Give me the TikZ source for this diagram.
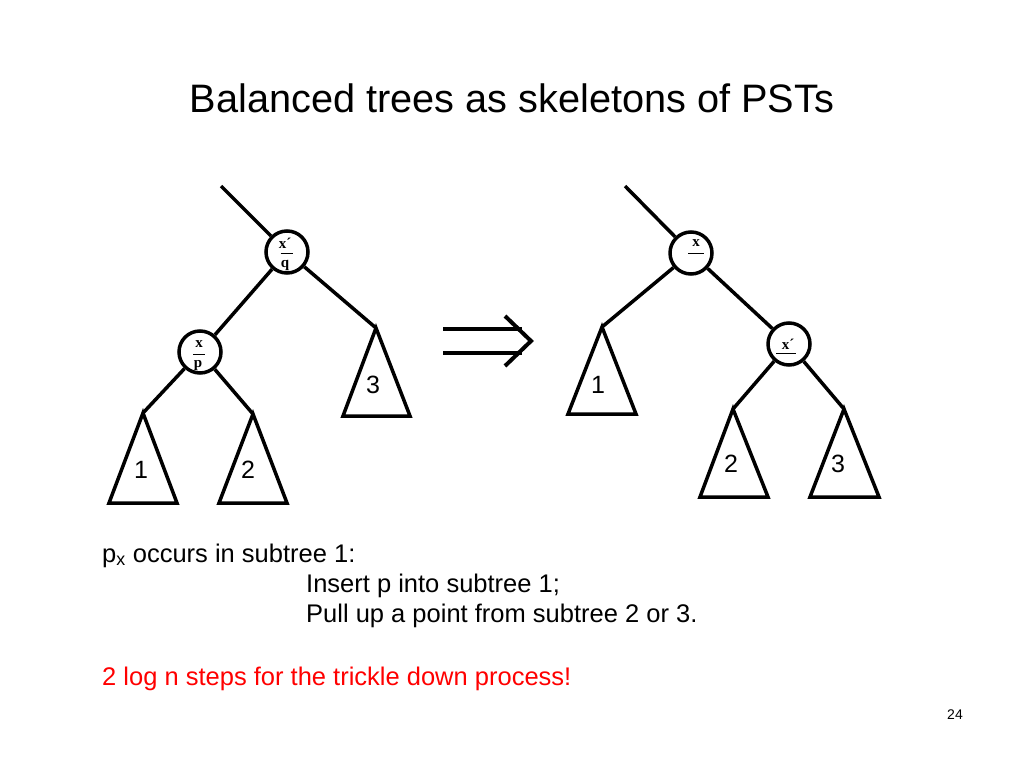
\documentclass[tikz,border=0pt]{standalone}
\usepackage{fontspec}
\setmainfont{Liberation Sans}
\newfontfamily\serifb{Liberation Serif}
\begin{document}
\begin{tikzpicture}[x=1pt,y=-1pt,
  edge/.style={line width=3.5pt},
  circ/.style={draw,circle,line width=3.5pt,minimum size=42pt,inner sep=0pt},
  tri/.style={line width=3.5pt,line join=miter},
  tlab/.style={font=\fontsize{25}{28}\selectfont,inner sep=0pt},
  ntxt/.style={font=\serifb\bfseries\fontsize{15}{17}\selectfont,inner sep=0pt},
  bar/.style={line width=0.8pt},
  body/.style={font=\fontsize{25.5}{29}\selectfont,anchor=base west,inner sep=0pt}]
\useasboundingbox[fill=white] (0,0) rectangle (1024,768);
% title
\node[font=\fontsize{39.7}{46}\selectfont,anchor=base,inner sep=0pt] (title) at (512,112) {Balanced trees as skeletons of PSTs};
% ---------- left tree ----------
\coordinate (Ltop) at (221,186);
\node[circ] (Lr) at (287,252) {};
\node[circ] (Lp) at (200,352) {};
\coordinate (L3a) at (376,328);
\coordinate (L1a) at (143,413);
\coordinate (L2a) at (253,414);
\draw[edge] (Ltop) -- (Lr);
\draw[edge] (Lr) -- (Lp);
\draw[edge] (Lr) -- (L3a);
\draw[edge] (Lp) -- (L1a);
\draw[edge] (Lp) -- (L2a);
\draw[tri] (L3a) -- (410,416) -- (343,416) -- cycle;
\draw[tri] (L1a) -- (177,503) -- (109,503) -- cycle;
\draw[tri] (L2a) -- (287,503) -- (219,503) -- cycle;
\node[tlab] (L3) at (373,385) {3};
\node[tlab] (L1) at (141,470) {1};
\node[tlab] (L2) at (248,470) {2};
\node[ntxt] (Lrx) at (285,243) {x´};
\draw[bar] (280.5,253.5) -- (292.5,253.5);
\node[ntxt] (Lrq) at (285,265) {q};
\node[ntxt] (Lpx) at (199,344) {x};
\draw[bar] (193,354) -- (205,354);
\node[ntxt] (Lpp) at (198,366) {p};
% ---------- arrow ----------
\draw[line width=4pt] (443,329) -- (522,329);
\draw[line width=4pt] (443,353) -- (522,353);
\draw[line width=4pt,line join=miter] (505,316) -- (531,341) -- (505,366);
% ---------- right tree ----------
\coordinate (Rtop) at (625,186);
\node[circ] (Rr) at (691,253) {};
\node[circ] (Rx) at (789,344) {};
\coordinate (R1a) at (602,327);
\coordinate (R2a) at (733,409);
\coordinate (R3a) at (844,409);
\draw[edge] (Rtop) -- (Rr);
\draw[edge] (Rr) -- (R1a);
\draw[edge] (Rr) -- (Rx);
\draw[edge] (Rx) -- (R2a);
\draw[edge] (Rx) -- (R3a);
\draw[tri] (R1a) -- (636,414) -- (568,414) -- cycle;
\draw[tri] (R2a) -- (768,497) -- (700,497) -- cycle;
\draw[tri] (R3a) -- (879,497) -- (810,497) -- cycle;
\node[tlab] (R1) at (598,385) {1};
\node[tlab] (R2) at (731,464) {2};
\node[tlab] (R3) at (838,464) {3};
\node[ntxt] (Rrx) at (696,243) {x};
\draw[bar] (688,253.5) -- (704,253.5);
\node[ntxt] (Rxx) at (788,344) {x´};
\draw[bar] (776,353.5) -- (796,353.5);
% ---------- text ----------
\node[body] (t1) at (102,562) {p\textsubscript{x} occurs in subtree 1:};
\node[body] (t2) at (306,592) {Insert p into subtree 1;};
\node[body] (t3) at (306,622) {Pull up a point from subtree 2 or 3.};
\node[body,text=red] (t4) at (102,685) {2 log n steps for the trickle down process!};
\node[font=\fontsize{14}{16}\selectfont,anchor=base,inner sep=0pt] (pg) at (955,719) {24};
\end{tikzpicture}
\end{document}
